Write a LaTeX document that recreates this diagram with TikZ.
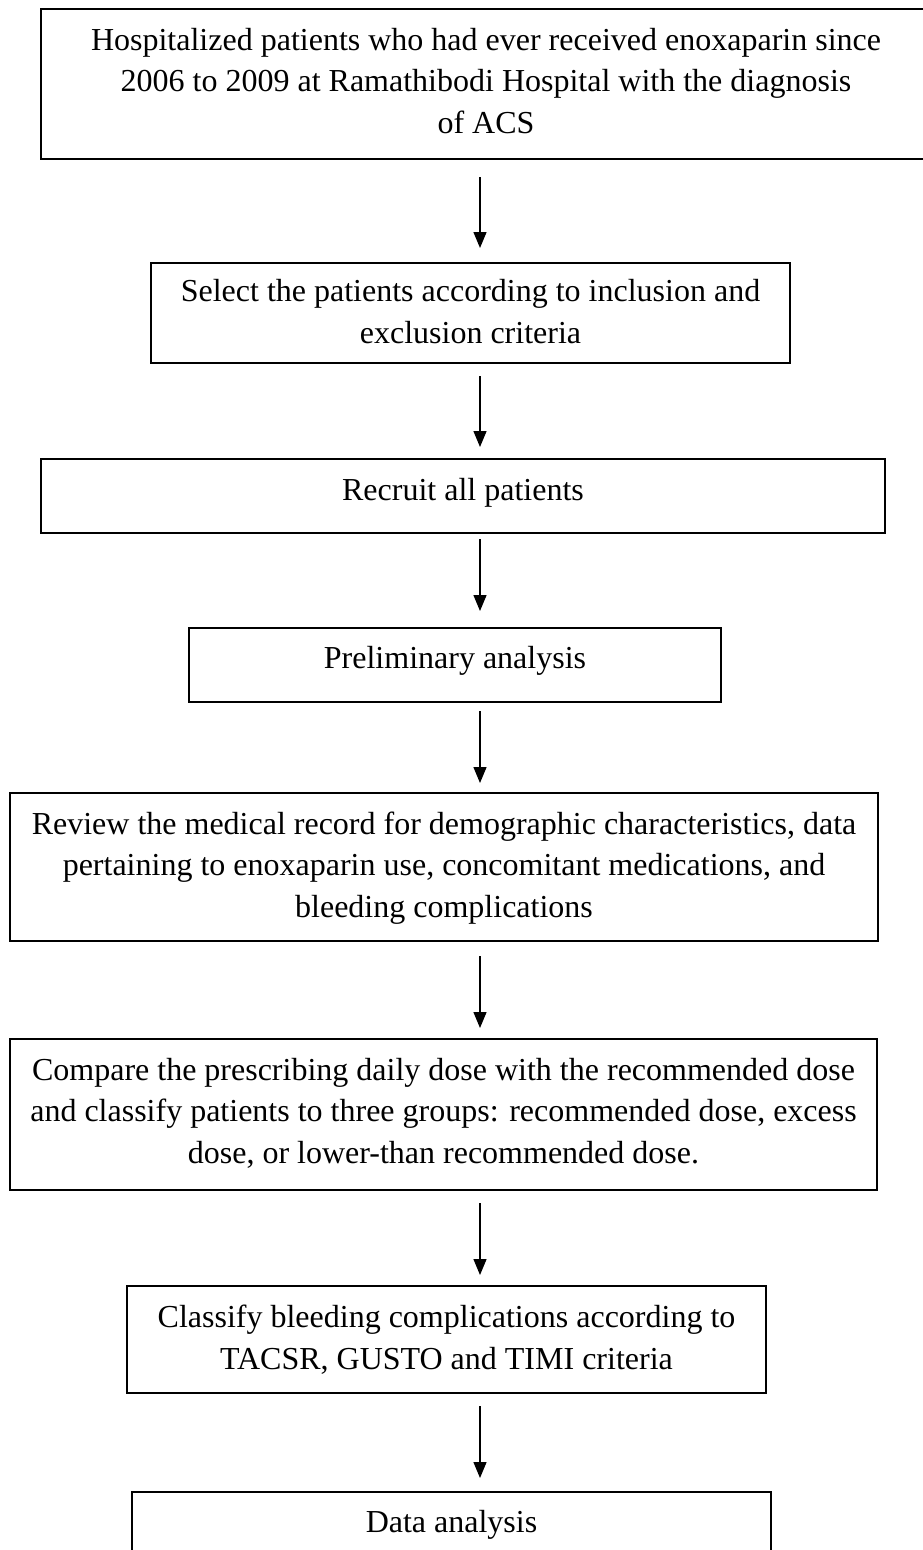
\documentclass[tikz,border=0pt]{standalone}
\usepackage{fontspec}
\setmainfont{Liberation Serif}
\usetikzlibrary{arrows.meta}
\begin{document}
\begin{tikzpicture}[x=1pt,y=-1pt,
  box/.style={draw=black, line width=1.8pt, align=center, inner sep=0pt, outer sep=0pt,
              font=\fontsize{32}{41.5}\selectfont},
  arr/.style={line width=1.4pt, -{Triangle[length=16pt,width=13pt]}}]
\useasboundingbox (0,0) rectangle (923,1550);
\clip (0,0) rectangle (923,1550);
\coordinate (ax) at (480,0);

\node[box, minimum width=890pt, minimum height=150pt, text height=105pt, text depth=7pt] (b1) at (486,84)
  {Hospitalized patients who had ever received enoxaparin since\\2006 to 2009 at Ramathibodi Hospital with the diagnosis\\of ACS};
\node[box, minimum width=639pt, minimum height=100pt, text height=63.5pt, text depth=3.5pt] (b2) at (470.5,313)
  {Select the patients according to inclusion and\\exclusion criteria};
\node[box, minimum width=844pt, minimum height=74pt, text height=22pt, text depth=14pt] (b3) at (463,496)
  {Recruit all patients};
\node[box, minimum width=532pt, minimum height=74pt, text height=22pt, text depth=16pt] (b4) at (455,665)
  {Preliminary analysis};
\node[box, minimum width=868pt, minimum height=148pt, text height=105pt, text depth=5pt] (b5) at (444,867)
  {Review the medical record for demographic characteristics, data\\pertaining to enoxaparin use, concomitant medications, and\\bleeding complications};
\node[box, minimum width=867pt, minimum height=151pt, text height=105pt, text depth=8pt] (b6) at (443.5,1114.5)
  {Compare the prescribing daily dose with the recommended dose\\and classify patients to three groups: recommended dose, excess\\dose, or lower-than recommended dose.};
\node[box, minimum width=639pt, minimum height=107pt, text height=63.5pt, text depth=4.5pt] (b7) at (446.5,1339.5)
  {Classify bleeding complications according to\\TACSR, GUSTO and TIMI criteria};
\node[box, minimum width=639pt, minimum height=74pt, text height=22pt, text depth=16pt] (b8) at (451.5,1529)
  {Data analysis};

\draw[arr, shorten <=18pt, shorten >=15pt] (b1.south -| ax) -- (b2.north -| ax);
\draw[arr, shorten <=13pt, shorten >=12pt] (b2.south -| ax) -- (b3.north -| ax);
\draw[arr, shorten <=6pt, shorten >=17pt] (b3.south -| ax) -- (b4.north -| ax);
\draw[arr, shorten <=9pt, shorten >=10pt] (b4.south -| ax) -- (b5.north -| ax);
\draw[arr, shorten <=15pt, shorten >=11pt] (b5.south -| ax) -- (b6.north -| ax);
\draw[arr, shorten <=13pt, shorten >=11pt] (b6.south -| ax) -- (b7.north -| ax);
\draw[arr, shorten <=13pt, shorten >=14pt] (b7.south -| ax) -- (b8.north -| ax);
\end{tikzpicture}
\end{document}
